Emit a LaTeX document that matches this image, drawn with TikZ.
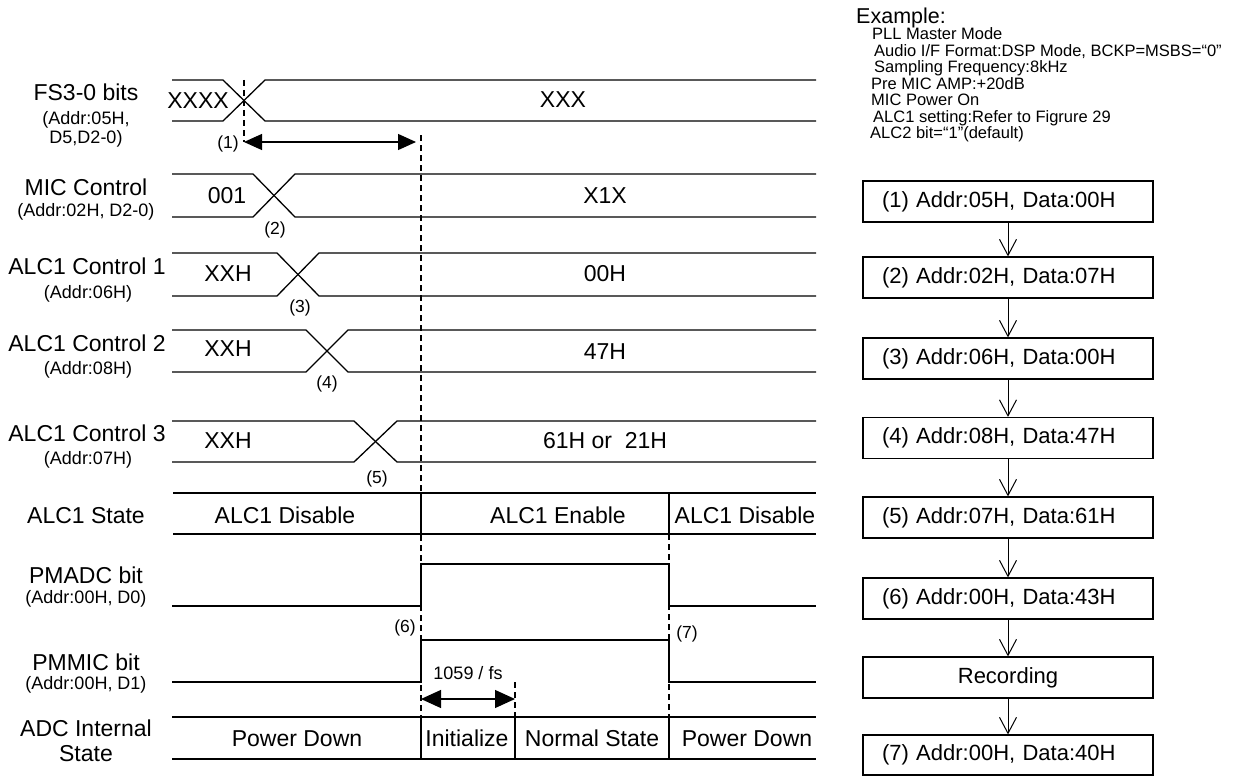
\documentclass[tikz,border=0pt]{standalone}
\usepackage{fontspec}
\setmainfont{Liberation Sans}
\usetikzlibrary{arrows.meta}
\newcommand\fntMain{\fontsize{23}{26}\selectfont}
\newcommand\fntSub{\fontsize{18}{20}\selectfont}
\newcommand\fntNum{\fontsize{17.5}{20}\selectfont}
\newcommand\fntBox{\fontsize{22}{25}\selectfont}
\newcommand\fntEx{\fontsize{16.5}{18}\selectfont}
\newcommand\fntTitle{\fontsize{21.5}{24}\selectfont}
\begin{document}
\begin{tikzpicture}[x=1pt,y=-1pt,
  txt/.style={inner sep=0pt, anchor=base},
  lab/.style={txt, font=\fntMain},
  sub/.style={txt, font=\fntSub},
  num/.style={txt, font=\fntNum},
  exl/.style={inner sep=0pt, anchor=base west, font=\fntEx},
  sig/.style={line width=1.3pt, line join=miter},
  dsh/.style={line width=1.2pt, dash pattern=on 6pt off 4pt},
  dimarr/.style={line width=1.2pt, {Triangle[length=18pt,width=16pt]}-{Triangle[length=18pt,width=16pt]}},
  dimarrb/.style={line width=1.2pt, {Triangle[length=20pt,width=18pt]}-{Triangle[length=20pt,width=18pt]}},
  regbox/.style={draw, line width=1.2pt, minimum width=290pt, minimum height=41pt, text width=252pt, inner xsep=19pt, inner ysep=0pt, font=\fntBox, align=left},
  flow/.style={line width=1pt, -{Straight Barb[length=16pt,width=17pt]}}
]
\useasboundingbox (0,0) rectangle (1235,776);

% ---------------- left labels ----------------
\node[lab] (lfs) at (86,100.3) {FS3-0 bits};
\node[sub] (lfsa) at (86,124.5) {(Addr:05H,};
\node[sub] (lfsb) at (86,143.5) {D5,D2-0)};
\node[lab] (lmic) at (86,195.3) {MIC Control};
\node[sub] (lmica) at (86,216.5) {(Addr:02H, D2-0)};
\node[lab] (lc1) at (87,274.3) {ALC1 Control 1};
\node[sub] (lc1a) at (88,298.5) {(Addr:06H)};
\node[lab] (lc2) at (87,351.3) {ALC1 Control 2};
\node[sub] (lc2a) at (88,374.5) {(Addr:08H)};
\node[lab] (lc3) at (87,441.3) {ALC1 Control 3};
\node[sub] (lc3a) at (88,464.5) {(Addr:07H)};
\node[lab] (lst) at (86,523.3) {ALC1 State};
\node[lab] (ladc) at (86,583.3) {PMADC bit};
\node[sub] (ladca) at (86,603.5) {(Addr:00H, D0)};
\node[lab] (lmm) at (86,670.3) {PMMIC bit};
\node[sub] (lmma) at (86,689.5) {(Addr:00H, D1)};
\node[lab] (lai) at (86,736.3) {ADC Internal};
\node[lab] (lai2) at (86,761.3) {State};

% ---------------- dashed guide lines ----------------
\draw[dsh] (244,80) -- (244,142);
\draw[dsh] (421,135) -- (421,759);
\draw[dsh] (669,534) -- (669,759);
\draw[dsh] (515,682) -- (515,717);

% ---------------- bus waveforms ----------------
% FS3-0
\draw[sig] (172,80) -- (223,80) -- (265,121) -- (816,121);
\draw[sig] (172,121) -- (223,121) -- (265,80) -- (816,80);
% MIC control
\draw[sig] (172,174) -- (253,174) -- (295,217) -- (816,217);
\draw[sig] (172,217) -- (253,217) -- (295,174) -- (816,174);
% ALC1 Control 1
\draw[sig] (172,253) -- (277,253) -- (319,296) -- (816,296);
\draw[sig] (172,296) -- (277,296) -- (319,253) -- (816,253);
% ALC1 Control 2
\draw[sig] (172,330) -- (306,330) -- (348,372) -- (816,372);
\draw[sig] (172,372) -- (306,372) -- (348,330) -- (816,330);
% ALC1 Control 3
\draw[sig] (172,421) -- (354,421) -- (397,462) -- (816,462);
\draw[sig] (172,462) -- (354,462) -- (397,421) -- (816,421);

% values
\node[lab] (vfs1) at (198,108.3) {XXXX};
\node[lab] (vfs2) at (563,107.3) {XXX};
\node[lab] (vmic1) at (227,203.3) {001};
\node[lab] (vmic2) at (605,203.3) {X1X};
\node[lab] (vc11) at (228,281.3) {XXH};
\node[lab] (vc12) at (605,281.3) {00H};
\node[lab] (vc21) at (228,356.3) {XXH};
\node[lab] (vc22) at (605,359.3) {47H};
\node[lab] (vc31) at (228,448.3) {XXH};
\node[lab] (vc32) at (605,448.3) {61H or\ \ 21H};

% step numbers
\node[num] (n1) at (228,148.3) {(1)};
\node[num] (n2) at (275,234.3) {(2)};
\node[num] (n3) at (300,312.3) {(3)};
\node[num] (n4) at (327,388.3) {(4)};
\node[num] (n5) at (377,483.3) {(5)};
\node[num] (n6) at (405,632.3) {(6)};
\node[num] (n7) at (687,638.3) {(7)};

% (1) interval arrow
\coordinate (a1l) at (244,142);
\coordinate (a1r) at (416,142);
\draw[dimarr] (a1l) -- (a1r);

% ---------------- ALC1 state ----------------
\draw[sig] (173,493) -- (816,493);
\draw[sig] (173,534) -- (816,534);
\draw[sig] (421,493) -- (421,534);
\draw[sig] (669,493) -- (669,534);
\node[lab] (s1) at (285,523.3) {ALC1 Disable};
\node[lab] (s2) at (558,523.3) {ALC1 Enable};
\node[lab] (s3) at (745,523.3) {ALC1 Disable};

% ---------------- PMADC / PMMIC ----------------
\draw[sig] (172,606) -- (421,606) -- (421,564) -- (669,564) -- (669,606) -- (816,606);
\draw[sig] (172,682) -- (421,682) -- (421,640) -- (669,640) -- (669,682) -- (816,682);

% 1059/fs arrow
\node[num, font=\fntSub] (tfs) at (468,679.5) {1059 / fs};
\coordinate (a2l) at (421,699);
\coordinate (a2r) at (515,699);
\draw[dimarrb] (a2l) -- (a2r);

% ---------------- ADC internal state ----------------
\draw[sig] (172,717) -- (816,717);
\draw[sig] (172,759) -- (816,759);
\draw[sig] (421,717) -- (421,759);
\draw[sig] (515,717) -- (515,759);
\draw[sig] (669,717) -- (669,759);
\node[lab] (d1) at (297,746.3) {Power Down};
\node[lab] (d2) at (467,746.3) {Initialize};
\node[lab] (d3) at (592,746.3) {Normal State};
\node[lab] (d4) at (747,746.3) {Power Down};

% ---------------- Example text ----------------
\node[inner sep=0pt, anchor=base west, font=\fntTitle] (ex) at (856,23.5) {Example:};
\node[exl] (e1) at (872,40) {PLL Master Mode};
\node[exl] (e2) at (874,56.5) {Audio I/F Format:DSP Mode, BCKP=MSBS=“0”};
\node[exl] (e3) at (874,73) {Sampling Frequency:8kHz};
\node[exl] (e4) at (871,89.5) {Pre MIC AMP:+20dB};
\node[exl] (e5) at (871,106) {MIC Power On};
\node[exl] (e6) at (873,122.5) {ALC1 setting:Refer to Figrure 29};
\node[exl] (e7) at (870,139) {ALC2 bit=“1”(default)};

% ---------------- flow chart ----------------
\node[regbox] (b1) at (1008,201.5) {(1) Addr:05H, Data:00H};
\node[regbox] (b2) at (1008,277.5) {(2) Addr:02H, Data:07H};
\node[regbox] (b3) at (1008,358.5) {(3) Addr:06H, Data:00H};
\node[regbox] (b4) at (1008,438) {(4) Addr:08H, Data:47H};
\node[regbox] (b5) at (1008,517.5) {(5) Addr:07H, Data:61H};
\node[regbox] (b6) at (1008,598.5) {(6) Addr:00H, Data:43H};
\node[regbox, align=center] (rec) at (1008,677.5) {Recording};
\node[regbox, minimum height=40pt] (b7) at (1008,755) {(7) Addr:00H, Data:40H};

\draw[flow] (b1) -- (b2);
\draw[flow] (b2) -- (b3);
\draw[flow] (b3) -- (b4);
\draw[flow] (b4) -- (b5);
\draw[flow] (b5) -- (b6);
\draw[flow] (b6) -- (rec);
\draw[flow] (rec) -- (b7);
\end{tikzpicture}
\end{document}
